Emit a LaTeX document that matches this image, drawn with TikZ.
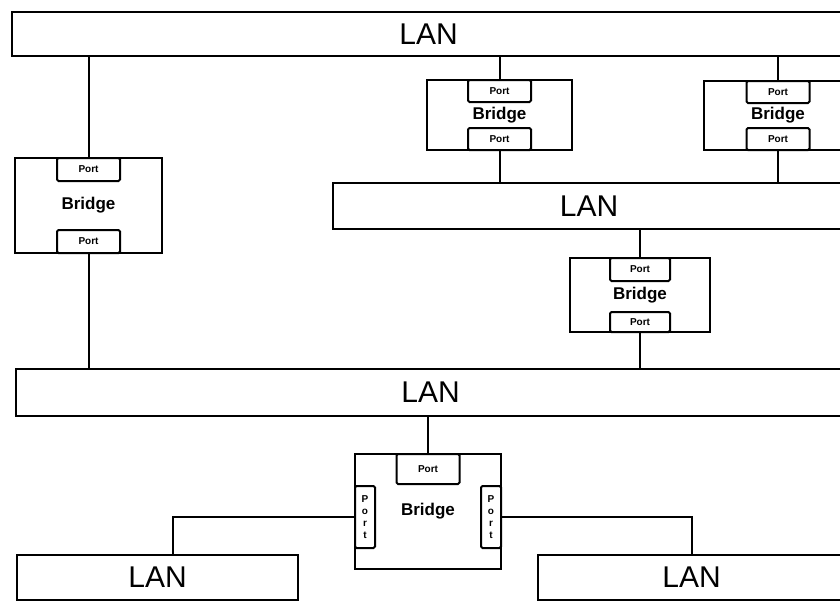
\documentclass[tikz,border=0pt]{standalone}
\usepackage{fontspec}
\setmainfont{Liberation Sans}
\usepackage{tikz}
\usetikzlibrary{positioning, calc}

\begin{document}
\begin{tikzpicture}[
  x=1pt, y=-1pt,
  lan/.style={draw, line width=2pt, inner sep=0pt,
    font=\fontsize{30}{30}\selectfont},
  bridge/.style={draw, line width=2pt, fill=white, inner sep=0pt,
    font=\bfseries\fontsize{17}{17}\selectfont},
  port/.style={draw, line width=2pt, rounded corners=1.5pt, fill=white,
    inner sep=1pt, minimum width=63pt, minimum height=23pt,
    font=\bfseries\fontsize{10}{10}\selectfont},
  sideport/.style={port, minimum width=20pt, minimum height=62pt, align=center,
    font=\bfseries\fontsize{10}{12}\selectfont},
  link/.style={line width=2pt}
]
  \clip (0,0) rectangle (840,603);
  \fill[white] (0,0) rectangle (840,603);

  \node[lan, minimum width=833pt, minimum height=44pt] (lanTop) at (428.5,34) {LAN};
  \node[lan, minimum width=512pt, minimum height=46pt] (lanMid) at (589,206) {LAN};
  \node[lan, minimum width=829pt, minimum height=47pt] (lanMain) at (430.5,392.5) {LAN};
  \node[lan, minimum width=281pt, minimum height=45pt] (lanLeft) at (157.5,577.5) {LAN};
  \node[lan, minimum width=307pt, minimum height=45pt] (lanRight) at (691.5,577.5) {LAN};

  \node[bridge, minimum width=147pt, minimum height=95pt] (br1) at (88.5,205.5) {Bridge};
  \node[port, anchor=north] (br1a) at (br1.north) {Port};
  \node[port, anchor=south] (br1b) at (br1.south) {Port};

  \node[bridge, minimum width=145pt, minimum height=70pt] (br2) at (499.5,115) {Bridge};
  \node[port, anchor=north, minimum height=22pt] (br2a) at (br2.north) {Port};
  \node[port, anchor=south, minimum height=22pt] (br2b) at (br2.south) {Port};

  \node[bridge, minimum width=149pt, minimum height=69pt] (br3) at (778,115.5) {Bridge};
  \node[port, anchor=north, minimum height=22pt] (br3a) at (br3.north) {Port};
  \node[port, anchor=south, minimum height=22pt] (br3b) at (br3.south) {Port};

  \node[bridge, minimum width=140pt, minimum height=74pt] (br4) at (640,295) {Bridge};
  \node[port, anchor=north, minimum width=60pt] (br4a) at (br4.north) {Port};
  \node[port, anchor=south, minimum width=60pt, minimum height=20pt] (br4b) at (br4.south) {Port};

  \node[bridge, minimum width=146pt, minimum height=115pt] (br5) at (428,511.5) {Bridge};
  \node[port, anchor=north, minimum height=30pt] (br5a) at (br5.north) {Port};
  \node[sideport, anchor=north west] (br5l) at (br5a.south -| br5.west) {P\\o\\r\\t};
  \node[sideport, anchor=north east] (br5r) at (br5a.south -| br5.east) {P\\o\\r\\t};

  \draw[link] (br1a.north |- lanTop.south) -- (br1a.north);
  \draw[link] (br1b.south) -- (br1b.south |- lanMain.north);
  \draw[link] (br2a.north |- lanTop.south) -- (br2a.north);
  \draw[link] (br2b.south) -- (br2b.south |- lanMid.north);
  \draw[link] (br3a.north |- lanTop.south) -- (br3a.north);
  \draw[link] (br3b.south) -- (br3b.south |- lanMid.north);
  \draw[link] (br4a.north |- lanMid.south) -- (br4a.north);
  \draw[link] (br4b.south) -- (br4b.south |- lanMain.north);
  \draw[link] (br5a.north |- lanMain.south) -- (br5a.north);
  \draw[link] (br5l.west) -| ([xshift=15]lanLeft.north);
  \draw[link] (br5r.east) -| (lanRight.north);
\end{tikzpicture}
\end{document}
